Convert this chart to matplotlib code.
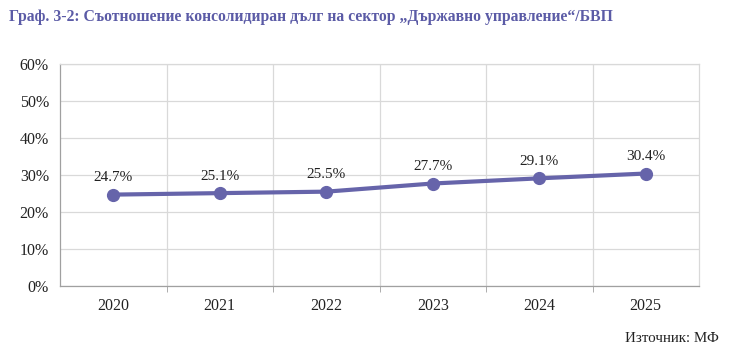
import matplotlib
matplotlib.use("Agg")
import matplotlib.pyplot as plt
from matplotlib.ticker import FixedLocator

plt.rcParams['font.family'] = ['Liberation Serif', 'DejaVu Serif']

years = ["2020", "2021", "2022", "2023", "2024", "2025"]
debt_ratio = [24.7, 25.1, 25.5, 27.7, 29.1, 30.4]
y_ticks = [0, 10, 20, 30, 40, 50, 60]

line_color = "#6664aa"
title_color = "#5b5ba6"
grid_color = "#d9d9d9"

fig = plt.figure(figsize=(7.4, 3.55), dpi=100)
ax = fig.add_axes([60/740, 1-286/355, (699-60)/740, (286-64)/355])

x = list(range(len(years)))
ax.plot(x, debt_ratio, color=line_color, lw=3, marker='o', ms=8.5,
        markerfacecolor=line_color, markeredgecolor=line_color, zorder=3)
for xi, v in zip(x, debt_ratio):
    ax.annotate(f"{v:.1f}%", (xi, v), xytext=(0, 7.5), textcoords='offset points',
                ha='center', va='bottom', fontsize=11, color='#222222')

ax.set_xlim(-0.5, len(years) - 0.5)
ax.set_ylim(0, 60)
ax.set_yticks(y_ticks)
ax.set_yticklabels([f"{t}%" for t in y_ticks], fontsize=11.5, color='#222222')
ax.set_xticks(x)
ax.set_xticklabels(years, fontsize=11.5, color='#222222')
ax.tick_params(axis='x', which='major', length=0, pad=9)
ax.tick_params(axis='y', length=0, pad=8)
ax.xaxis.set_minor_locator(FixedLocator([i + 0.5 for i in range(len(years) - 1)]))
ax.tick_params(axis='x', which='minor', length=4, color='#a0a0a0')
ax.grid(axis='y', color=grid_color, lw=0.9)
ax.grid(axis='x', which='minor', color=grid_color, lw=0.9)
ax.set_axisbelow(True)
for s in ['top', 'right']:
    ax.spines[s].set_color(grid_color)
    ax.spines[s].set_linewidth(0.9)
for s in ['left', 'bottom']:
    ax.spines[s].set_color('#a0a0a0')
    ax.spines[s].set_linewidth(0.9)

fig.text(9/740, 1-17/355, "Граф. 3-2: Съотношение консолидиран дълг на сектор „Държавно управление“/БВП",
         fontsize=11.3, fontweight='bold', color=title_color, ha='left', va='center')
fig.text(719/740, 1-338/355, "Източник: МФ", fontsize=10.8, color='#222222',
         ha='right', va='center')

fig.savefig("out.png", dpi=100, facecolor='white')
